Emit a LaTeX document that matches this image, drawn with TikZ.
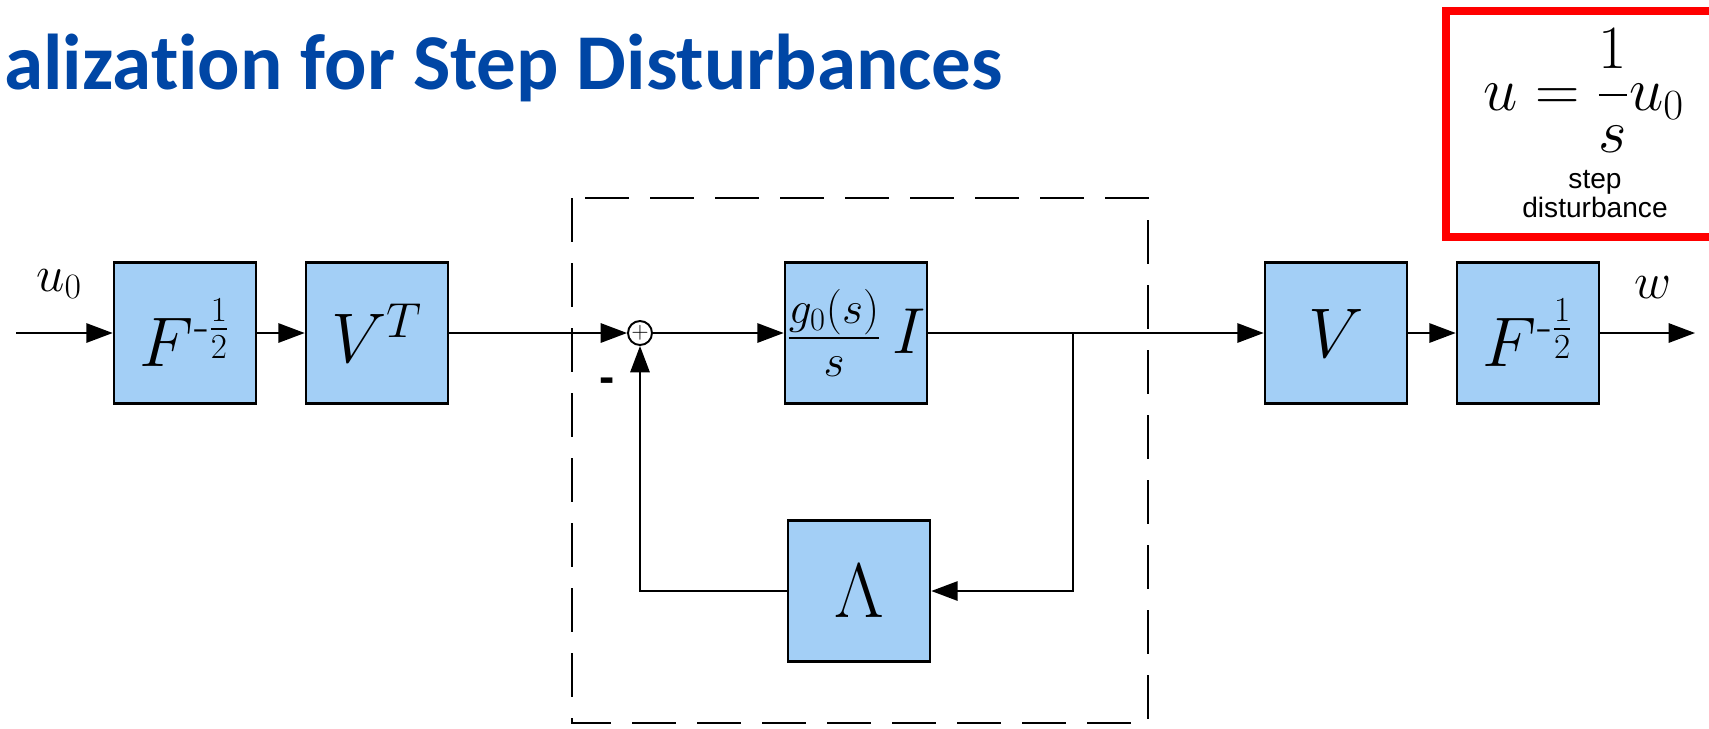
\RequirePackage{fix-cm}
\documentclass[tikz,border=0pt]{standalone}
\usepackage{amsmath}
\usepackage{fontspec}
\newfontfamily\titlefont[Ligatures=NoCommon]{Carlito}
\newfontfamily\notefont{Liberation Sans}
\usetikzlibrary{arrows.meta}

\definecolor{titleblue}{RGB}{0,70,165}
\definecolor{boxblue}{RGB}{163,207,246}
\definecolor{markred}{RGB}{255,0,0}

\begin{document}
\begin{tikzpicture}[x=0.02cm,y=-0.02cm,
    block/.style={draw, line width=1.5pt, fill=boxblue, minimum width=2.84cm,
        minimum height=2.82cm, inner sep=0pt, font=\fontsize{40}{44}\selectfont},
    sumnode/.style={draw, circle, line width=1.1pt, fill=white, minimum size=0.48cm,
        inner sep=0pt, font=\fontsize{13}{13}\selectfont},
    sig/.style={line width=1.1pt, -{Triangle[length=15pt,width=11pt]}},
    lbl/.style={font=\fontsize{29}{32}\selectfont, inner sep=0pt}]

    \useasboundingbox (0,0) rectangle (1709,728);

    % Title (cut at the left edge)
    \node[anchor=base west, inner sep=0pt, text=titleblue,
        font=\titlefont\bfseries\fontsize{45}{50}\selectfont] (title) at (4,89)
        {alization for Step Disturbances};

    % Red frame with the disturbance model
    \draw[markred, line width=4.5pt] (1760,11) -- (1446,11) -- (1446,237) -- (1760,237);
    \node[font=\fontsize{35}{38}\selectfont, inner sep=0pt] (dist) at (1584,91)
        {$\displaystyle u=\frac{1}{s}u_0$};
    \node[font=\notefont\fontsize{16}{16}\selectfont, align=center, inner sep=0pt]
        (note) at (1595,194) {step\\disturbance};

    % Blocks of the forward path
    \node[block] (prescale) at (185,333) {$F^{\text{-}\frac{1}{2}}$};
    \node[block] (rotT) at (377,333) {$V^T$};
    \node[block, font=\fontsize{37}{40}\selectfont] (plant) at (856,333) {$\frac{g_0(s)}{s}\,I$};
    \node[block, font=\fontsize{44}{48}\selectfont] (gain) at (859,591) {$\Lambda$};
    \node[block] (rot) at (1336,333) {$V$};
    \node[block] (postscale) at (1528,333) {$F^{\text{-}\frac{1}{2}}$};

    % Summing junction
    \node[sumnode] (sum) at (640,333) {$+$};

    % Loose ends and corners
    \coordinate (in) at (16,333);
    \coordinate (out) at (1695,333);
    \coordinate (branch) at (1073,333);

    % Dashed frame round the loop
    \draw[line width=1.1pt, dash pattern=on 25pt off 12pt] (572,198) rectangle (1148,723);

    % Signal lines
    \draw[sig] (in) -- (prescale);
    \draw[sig] (prescale) -- (rotT);
    \draw[sig] (rotT) -- (sum);
    \draw[sig] (sum) -- (plant);
    \draw[sig] (plant) -- (rot);
    \draw[sig] (rot) -- (postscale);
    \draw[sig] (postscale) -- (out);

    % Feedback through Lambda
    \draw[sig] (branch) |- (gain);
    \draw[sig] (gain) -| (sum);

    % Labels
    \node[lbl] (uin) at (59,284) {$u_0$};
    \node[lbl] (wout) at (1653,288) {$w$};
    \node[font=\notefont\bfseries\fontsize{26}{26}\selectfont, inner sep=0pt] (minus) at (607,385) {-};
\end{tikzpicture}
\end{document}
